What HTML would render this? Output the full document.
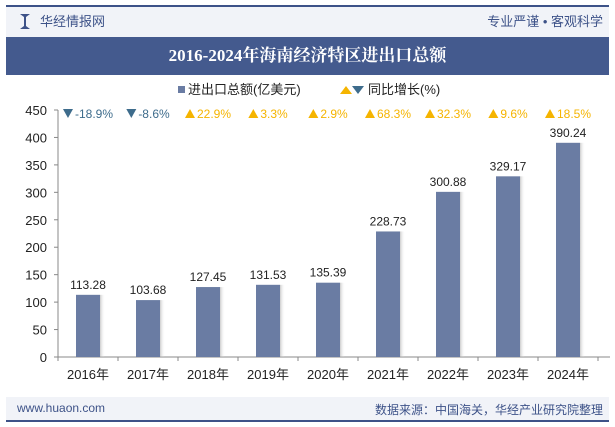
<!DOCTYPE html>
<html><head><meta charset="utf-8"><style>
body{margin:0;width:615px;height:427px;background:#fff;font-family:"Liberation Sans","Noto Sans CJK SC",sans-serif;overflow:hidden;position:relative}
.abs{position:absolute}
</style></head><body>
<div class="abs" style="left:6px;top:5px;width:603px;height:2px;background:#3d5288"></div>
<div class="abs" style="left:6px;top:7px;width:603px;height:30px;background:#f1f3f8"></div>
<div class="abs" style="left:20px;top:14px;width:10px;height:15px;background:#3d5288;clip-path:polygon(0 0,40% 20%,40% 80%,0 100%,100% 100%,60% 80%,60% 20%,100% 0)"></div>
<div class="abs" style="left:40px;top:11px;font-size:13px;color:#3d5288">华经情报网</div>
<div class="abs" style="right:12px;top:11px;font-size:13px;color:#3d5288">专业严谨 • 客观科学</div>
<div class="abs" style="left:6px;top:37px;width:603px;height:38px;background:#445a8e;color:#fff;font-family:'Liberation Serif','Noto Serif CJK SC',serif;font-weight:bold;font-size:17px;text-align:center;line-height:38px">2016-2024年海南经济特区进出口总额</div>
<div class="abs" style="left:6px;top:397px;width:603px;height:23px;background:#f1f3f8"></div>
<div class="abs" style="left:6px;top:420px;width:603px;height:2px;background:#3d5288"></div>
<div class="abs" style="left:17px;top:401px;font-size:12px;color:#3d5288">www.huaon.com</div>
<div class="abs" style="right:12px;top:401px;font-size:12px;color:#3d5288">数据来源：中国海关，华经产业研究院整理</div>
<svg class="abs" style="left:0;top:0" width="615" height="427" id="chart">
<defs><linearGradient id="sh" x1="0" x2="1"><stop offset="0" stop-color="#aaa" stop-opacity=".6"/><stop offset="1" stop-color="#fff" stop-opacity="0"/></linearGradient></defs>
<g>
<rect x="178" y="86" width="7" height="7" fill="#6a7ca3"/>
<text x="188" y="94" font-size="13" fill="#222">进出口总额(亿美元)</text>
<polygon points="340,94 346,86 352,94" fill="#f5b400"/><polygon points="353,86 365,86 359,94" fill="#3e6c8c" transform="translate(-1,0) scale(1,1)"/>
<text x="368" y="94" font-size="13" fill="#222">同比增长(%)</text>
</g>
</svg>
<script>
const categories=["2016年","2017年","2018年","2019年","2020年","2021年","2022年","2023年","2024年"];
const values=[113.28,103.68,127.45,131.53,135.39,228.73,300.88,329.17,390.24];
const growth=[-18.9,-8.6,22.9,3.3,2.9,68.3,32.3,9.6,18.5];
const yTicks=[0,50,100,150,200,250,300,350,400,450];
const svg=document.getElementById('chart');
const NS='http://www.w3.org/2000/svg';
const x0=58,step=60,y0=357,yTop=110,yMax=450;
const y=v=>y0-(v/yMax)*(y0-yTop);
const xc=i=>x0+step*(i+0.5);
function mk(t,a,txt){const e=document.createElementNS(NS,t);for(const k in a)e.setAttribute(k,a[k]);if(txt!=null)e.textContent=txt;svg.appendChild(e);return e;}
let ax=mk('line',{x1:x0,y1:yTop,x2:x0,y2:y0,stroke:'#888'});


let bx=mk('line',{x1:x0,y1:y0,x2:610,y2:y0,stroke:'#888'});


yTicks.forEach(v=>{
 let t=mk('text',{x:47,y:y(v)+5,'font-size':13,fill:'#222','text-anchor':'end'},v);
 
 
 mk('line',{x1:x0-4,y1:y(v),x2:x0,y2:y(v),stroke:'#888'});
});
for(let i=0;i<=9;i++)mk('line',{x1:x0+step*i,y1:y0,x2:x0+step*i,y2:y0+4,stroke:'#888'});
categories.forEach((c,i)=>{
 const cx=xc(i),w=24;
 mk('rect',{x:cx+w/2,y:y(values[i]),width:5,height:y0-y(values[i]),fill:'url(#sh)'});
 let b=mk('rect',{x:cx-w/2,y:y(values[i]),width:w,height:y0-y(values[i]),fill:'#6a7ca3'});
 
 
 let l=mk('text',{x:cx,y:y(values[i])-6,'font-size':12,fill:'#222','text-anchor':'middle'},values[i].toFixed(2));
 
 
 let xl=mk('text',{x:cx,y:379,'font-size':13,fill:'#222','text-anchor':'middle'},c);
 
 
 const g=growth[i],up=g>=0,col=up?'#f5b400':'#3e6c8c';
 let gl=mk('text',{x:cx+6,y:118,'font-size':12,fill:col,'text-anchor':'middle'},g.toFixed(1)+'%');
 
 
 const len=gl.getComputedTextLength?gl.getComputedTextLength():30;
 const tx=cx+6-len/2-12;
 let tri=mk('polygon',{points:up?`${tx},118 ${tx+5},109 ${tx+10},118`:`${tx},109 ${tx+10},109 ${tx+5},118`,fill:col});
 
 
});
</script>
</body></html>
